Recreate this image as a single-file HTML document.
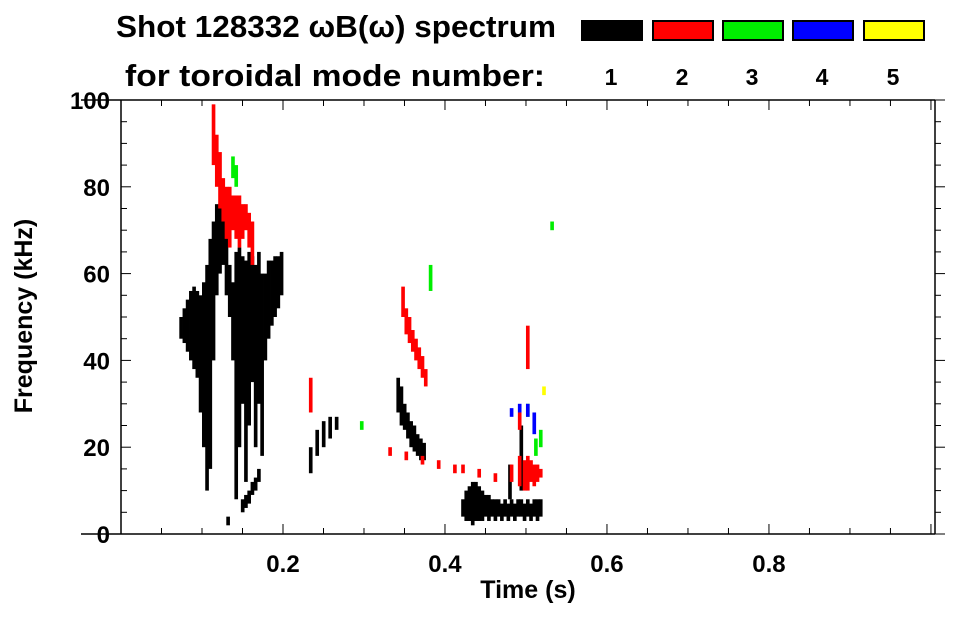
<!DOCTYPE html>
<html><head><meta charset="utf-8"><style>
body{margin:0;background:#fff;}
svg text{font-family:"Liberation Sans",sans-serif;font-weight:bold;fill:#000;}
</style></head><body>
<svg id="chart" width="963" height="615" viewBox="0 0 963 615" xmlns="http://www.w3.org/2000/svg">
<text x="116" y="37" font-size="31" textLength="440" lengthAdjust="spacingAndGlyphs">Shot 128332 ωB(ω) spectrum</text>
<text x="125" y="86" font-size="31" textLength="420" lengthAdjust="spacingAndGlyphs">for toroidal mode number:</text>
<g id="legend"></g>
<g id="marks"></g>
<g id="axes"></g>
<text x="528" y="598" font-size="25" text-anchor="middle">Time (s)</text>
<text transform="translate(32,316) rotate(-90)" font-size="25" text-anchor="middle">Frequency (kHz)</text>
</svg>
<script>
const modeColors = ['#000000','#ff0000','#00ee00','#0000ff','#ffff00'];
const modeLabels = ['1','2','3','4','5'];
const xTicks = [0.2,0.4,0.6,0.8];
const yTicks = [0,20,40,60,80,100];
// [time, fLow, fHigh]
const mode1 = [[0.072,45,50],[0.076,44,52],[0.080,42,54],[0.084,40,56],[0.088,38,57],[0.092,36,56],[0.096,28,55],[0.100,20,58],[0.104,10,62],[0.108,15,68],[0.112,40,72],[0.116,55,76],[0.120,60,76],[0.124,62,75],[0.128,55,70],[0.132,50,62],[0.136,40,58],[0.140,8,65],[0.144,20,66],[0.148,30,64],[0.152,12,63],[0.156,25,65],[0.160,35,64],[0.164,20,62],[0.168,30,65],[0.172,18,60],[0.176,40,60],[0.180,45,63],[0.184,48,63],[0.188,50,64],[0.192,52,64],[0.196,55,65],
[0.148,5,8],[0.152,6,9],[0.156,7,10],[0.160,9,12],[0.164,10,13],[0.168,12,15],[0.130,2,4],
[0.232,14,20],[0.240,18,24],[0.248,20,26],[0.256,22,27],[0.264,24,27],
[0.340,28,36],[0.344,25,34],[0.348,24,30],[0.352,22,28],[0.356,20,26],[0.360,19,25],[0.364,18,23],[0.368,17,22],[0.372,17,21],
[0.420,4,8],[0.424,3,10],[0.428,3,11],[0.432,2,12],[0.436,3,12],[0.440,3,11],[0.444,3,10],[0.448,4,9],[0.452,3,9],[0.456,4,8],[0.460,3,8],[0.464,4,8],[0.468,3,7],[0.472,4,8],[0.476,3,7],[0.480,4,8],[0.484,3,7],[0.488,4,8],[0.492,4,8],[0.496,3,7],[0.500,4,8],[0.504,3,7],[0.508,4,8],[0.512,3,8],[0.516,4,8],[0.492,10,25],[0.478,8,16]];
const mode2 = [[0.112,85,99],[0.116,80,92],[0.120,75,88],[0.124,72,82],[0.128,68,80],[0.132,66,80],[0.136,70,78],[0.140,68,78],[0.144,66,78],[0.148,68,76],[0.152,70,76],[0.156,66,74],[0.160,62,72],
[0.346,50,57],[0.350,46,52],[0.354,44,50],[0.358,42,47],[0.362,40,45],[0.366,38,43],[0.370,36,41],[0.374,34,38],
[0.330,18,20],[0.350,17,19],[0.370,16,18],[0.390,15,17],[0.410,14,16],
[0.420,14,16],[0.440,13,15],[0.460,12,14],[0.480,12,16],[0.490,11,18],[0.496,10,17],[0.500,10,18],[0.504,12,17],[0.508,11,16],[0.512,12,16],[0.516,13,15],[0.490,24,28],[0.500,38,48],[0.232,28,36]];
const mode3 = [[0.136,82,87],[0.140,80,85],[0.380,56,62],[0.295,24,26],[0.510,18,22],[0.516,20,24],[0.530,70,72],[0.500,27,30]];
const mode4 = [[0.480,27,29],[0.490,28,30],[0.500,27,30],[0.508,23,28]];
const mode5 = [[0.520,32,34]];
const series = [mode1,mode2,mode3,mode4,mode5];

const NS='http://www.w3.org/2000/svg';
const X0=121,X1=935,Y0=534,Y1=100,XMAX=1.005;
const xs=t=>X0+(X1-X0)*t/XMAX;
const ys=f=>Y0-(Y0-Y1)*f/100;
function mk(tag,attrs,parent){const e=document.createElementNS(NS,tag);for(const k in attrs)e.setAttribute(k,attrs[k]);parent.appendChild(e);return e;}
const marks=document.getElementById('marks');
series.forEach((s,m)=>{s.forEach(d=>{
  const r=mk('rect',{x:xs(d[0]),y:ys(d[2]),width:xs(0.0045)-xs(0),height:Math.max(1.5,ys(d[1])-ys(d[2])),fill:modeColors[m]},marks);
  
  
});});
const lg=document.getElementById('legend');
const lx=[582,653,723,793,864];
modeColors.forEach((c,i)=>{
  const r=mk('rect',{x:lx[i],y:21,width:60,height:19,fill:c,stroke:'#000','stroke-width':2},lg);
  
  
  const t=mk('text',{x:lx[i]+29,y:85,'font-size':23,'text-anchor':'middle'},lg);
  t.textContent=modeLabels[i];
  
  
});
const ax=document.getElementById('axes');
mk('line',{x1:X0,y1:Y1,x2:X0,y2:Y0,stroke:'#000','stroke-width':1.5},ax);
mk('line',{x1:X0-40,y1:Y0,x2:X1,y2:Y0,stroke:'#000','stroke-width':1.5},ax);
mk('line',{x1:X0-40,y1:Y1,x2:X1,y2:Y1,stroke:'#000','stroke-width':1.5},ax);
mk('line',{x1:X1,y1:Y1,x2:X1,y2:Y0,stroke:'#000','stroke-width':1.5},ax);
for(let i=1;i<=20;i++){const t=i*0.05;if(t>XMAX)break;const L=(i%4==0)?10:6;
  mk('line',{x1:xs(t),y1:Y0,x2:xs(t),y2:Y0-L,stroke:'#000','stroke-width':1},ax);
  mk('line',{x1:xs(t),y1:Y1,x2:xs(t),y2:Y1+L,stroke:'#000','stroke-width':1},ax);}
for(let i=0;i<=20;i++){const f=i*5;const L=(i%4==0)?10:6;
  mk('line',{x1:X0,y1:ys(f),x2:X0+L,y2:ys(f),stroke:'#000','stroke-width':1},ax);
  mk('line',{x1:X1,y1:ys(f),x2:X1+L,y2:ys(f),stroke:'#000','stroke-width':1},ax);}
xTicks.forEach(t=>{const e=mk('text',{x:xs(t),y:572,'font-size':24,'text-anchor':'middle'},ax);e.textContent=t.toFixed(1);
  
  });
yTicks.forEach(f=>{const e=mk('text',{x:110,y:ys(f)+9,'font-size':24,'text-anchor':'end'},ax);e.textContent=f;
  
  });
</script>
</body></html>
